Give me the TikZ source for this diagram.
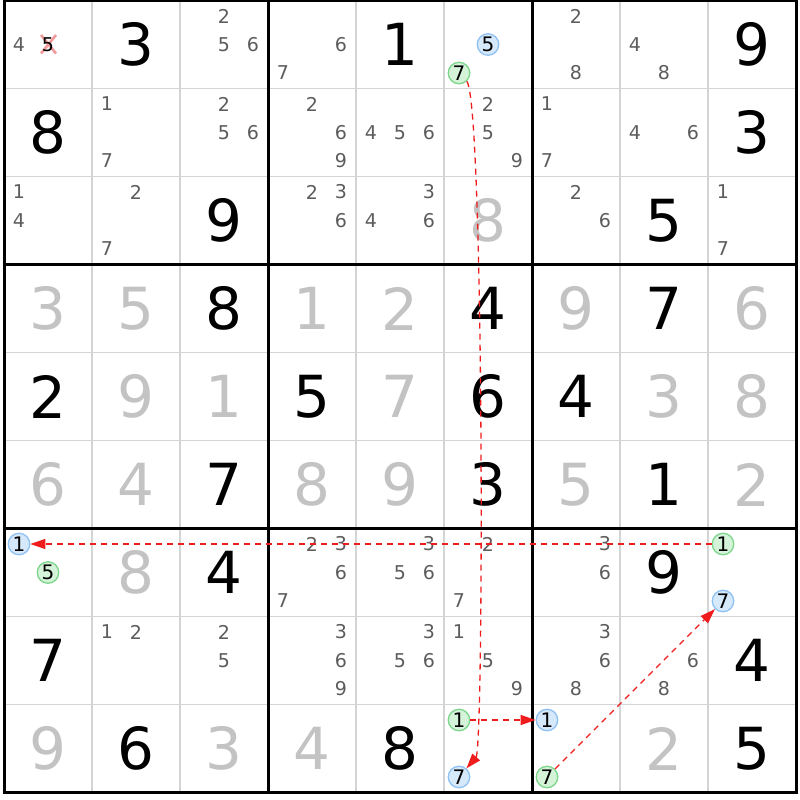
\documentclass[tikz,border=0pt]{standalone}
\usepackage{fontspec}
\setmainfont{DejaVu Sans}
\usetikzlibrary{arrows.meta}
\definecolor{thinc}{HTML}{D4D4D4}
\definecolor{solvedc}{HTML}{C3C3C3}
\definecolor{candc}{HTML}{5C5C5C}
\definecolor{bluefill}{HTML}{D6E9FB}
\definecolor{blueline}{HTML}{8FC2F2}
\definecolor{greenfill}{HTML}{D4F3D9}
\definecolor{greenline}{HTML}{7ED68D}
\definecolor{xmarkc}{HTML}{F29A9A}
\definecolor{linkred}{HTML}{EE1C1C}
\tikzset{
  given/.style={inner sep=0pt, font=\fontsize{58}{60}\selectfont, text=black},
  solved/.style={given, text=solvedc},
  cand/.style={inner sep=0pt, font=\fontsize{19}{20}\selectfont, text=candc},
  bluec/.style={circle, draw=blueline, fill=bluefill, line width=1.3pt, minimum size=21.5pt, inner sep=0pt, font=\fontsize{20}{21}\selectfont, text=black},
  greenc/.style={bluec, draw=greenline, fill=greenfill},
  thinline/.style={draw=thinc, line width=1.2pt},
  thickline/.style={draw=black, line width=3pt},
  link/.style={draw=linkred, line width=1.3pt, dash pattern=on 6pt off 5pt, -{Triangle[length=15pt,width=10pt]}}
}
\newcommand\candpos[3]{\pgfmathsetmacro\px{88*#2-40+(mod(#3-1,3)-1)*29}\pgfmathsetmacro\py{88*#1-43.5+(floor((#3-1)/3)-1)*28.5}}
\newcommand\G[3]{\node[given] (d#1#2) at ({88*#2-40},{88*#1-43.5}) {#3};}
\newcommand\So[3]{\node[solved] (d#1#2) at ({88*#2-40},{88*#1-43.5}) {#3};}
\newcommand\C[3]{\foreach \d in {#3}{\candpos{#1}{#2}{\d}\node[cand] (c#1#2\d) at (\px,\py) {\d};}}
\newcommand\Ci[5]{\candpos{#2}{#3}{#4}\node[#1] (#5) at (\px,\py) {#4};}
\begin{document}
\begin{tikzpicture}[x=1pt,y=-1pt]
\useasboundingbox (0,0) rectangle (800,800);
\fill[white] (0,0) rectangle (800,800);
% grid
\foreach \i in {1,2,4,5,7,8}{
  \draw[thinline] (4,{0.5+88*\i}) -- (796,{0.5+88*\i});
  \draw[thinline] ({4+88*\i},0.5) -- ({4+88*\i},792.5);
}
\foreach \i in {0,3,6,9}{
  \draw[thickline] (2.5,{0.5+88*\i}) -- (797.5,{0.5+88*\i});
  \draw[thickline] ({4+88*\i},-1) -- ({4+88*\i},794);
}
% row 1
\C{1}{1}{4}
\draw[xmarkc, line width=2.6pt] (41,35) -- (56,53.5) (41,53.5) -- (56,35);
\candpos{1}{1}{5}\node[cand, text=black] (c115) at (\px,\py) {5};
\G{1}{2}{3} \C{1}{3}{2,5,6} \C{1}{4}{6,7} \G{1}{5}{1}
\Ci{bluec}{1}{6}{5}{b5top}
\Ci{greenc}{1}{6}{7}{g7top}
\C{1}{7}{2,8} \C{1}{8}{4,8} \G{1}{9}{9}
% row 2
\G{2}{1}{8} \C{2}{2}{1,7} \C{2}{3}{2,5,6} \C{2}{4}{2,6,9} \C{2}{5}{4,5,6}
\C{2}{6}{2,5,9} \C{2}{7}{1,7} \C{2}{8}{4,6} \G{2}{9}{3}
% row 3
\C{3}{1}{1,4} \C{3}{2}{2,7} \G{3}{3}{9} \C{3}{4}{2,3,6} \C{3}{5}{3,4,6}
\So{3}{6}{8} \C{3}{7}{2,6} \G{3}{8}{5} \C{3}{9}{1,7}
% row 4
\So{4}{1}{3} \So{4}{2}{5} \G{4}{3}{8} \So{4}{4}{1} \So{4}{5}{2} \G{4}{6}{4} \So{4}{7}{9} \G{4}{8}{7} \So{4}{9}{6}
% row 5
\G{5}{1}{2} \So{5}{2}{9} \So{5}{3}{1} \G{5}{4}{5} \So{5}{5}{7} \G{5}{6}{6} \G{5}{7}{4} \So{5}{8}{3} \So{5}{9}{8}
% row 6
\So{6}{1}{6} \So{6}{2}{4} \G{6}{3}{7} \So{6}{4}{8} \So{6}{5}{9} \G{6}{6}{3} \So{6}{7}{5} \G{6}{8}{1} \So{6}{9}{2}
% row 7
\Ci{bluec}{7}{1}{1}{b1left}
\Ci{greenc}{7}{1}{5}{g5left}
\So{7}{2}{8} \G{7}{3}{4} \C{7}{4}{2,3,6,7} \C{7}{5}{3,5,6} \C{7}{6}{2,7} \C{7}{7}{3,6} \G{7}{8}{9}
\Ci{greenc}{7}{9}{1}{g1right}
\Ci{bluec}{7}{9}{7}{b7right}
% row 8
\G{8}{1}{7} \C{8}{2}{1,2} \C{8}{3}{2,5} \C{8}{4}{3,6,9} \C{8}{5}{3,5,6}
\C{8}{6}{1,5,9} \C{8}{7}{3,6,8} \C{8}{8}{6,8} \G{8}{9}{4}
% row 9
\So{9}{1}{9} \G{9}{2}{6} \So{9}{3}{3} \So{9}{4}{4} \G{9}{5}{8}
\Ci{greenc}{9}{6}{1}{g1bot}
\Ci{bluec}{9}{6}{7}{b7bot}
\Ci{bluec}{9}{7}{1}{b1bot}
\Ci{greenc}{9}{7}{7}{g7bot}
\So{9}{8}{2} \G{9}{9}{5}
% links
\draw[link] (g7top) .. controls (484,100) and (484,748) .. (b7bot);
\draw[link] (g1right) -- (b1left);
\draw[link] (g1bot) -- (b1bot);
\draw[link] (g7bot) -- (b7right);
\end{tikzpicture}
\end{document}
